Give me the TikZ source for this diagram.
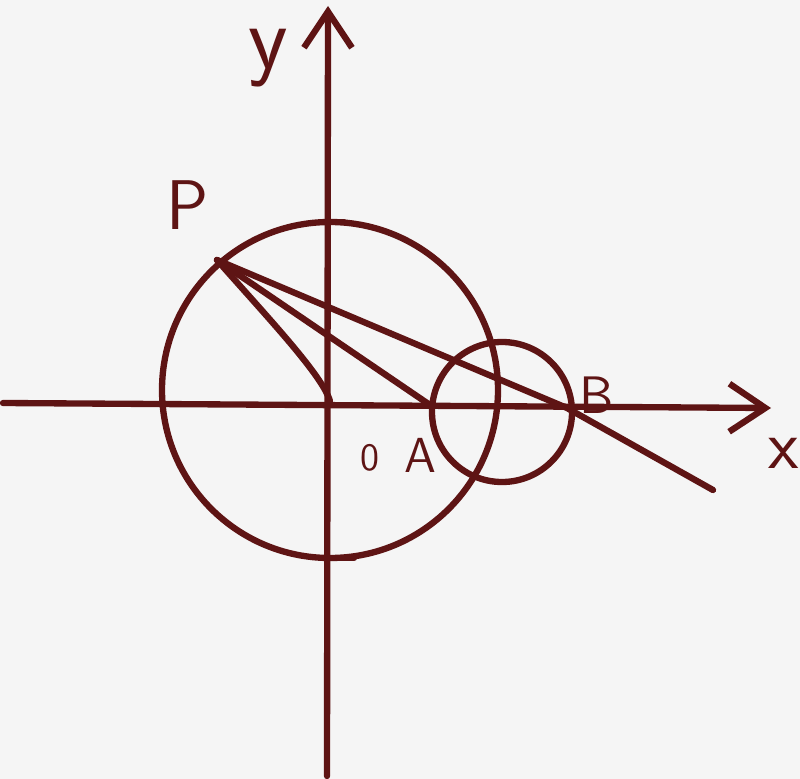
\documentclass[tikz,border=0pt]{standalone}
\usetikzlibrary{arrows.meta}
\definecolor{ink}{HTML}{5E1414}
\definecolor{paper}{HTML}{F5F5F5}
\tikzset{
    pen/.style={draw=ink, line width=1.8pt, line cap=round, line join=round},
    axis/.style={pen, -{Straight Barb[length=3.6mm, width=4.8mm, line width=1.8pt]}},
    letter/.style={text=ink, inner sep=0pt}
}
\begin{document}
\begin{tikzpicture}[x=0.01cm, y=-0.01cm]

        \fill[paper] (0,0) rectangle (800,779);
        \useasboundingbox (0,0) rectangle (800,779);

        \coordinate (xstart) at (3,403);
        \coordinate (xend) at (771,408);
        \coordinate (ystart) at (327,776);
        \coordinate (yend) at (328,6);

        \coordinate (P) at (217,260);
        \coordinate (O) at (330,401);
        \coordinate (A) at (430,405);
        \coordinate (B) at (567,408);
        \coordinate (Q) at (713,490);
        \coordinate (bigc) at (330,390);
        \coordinate (smallc) at (502,412);

        \draw [axis] (xstart) -- (xend);
        \draw [axis] (ystart) -- (yend);

        \draw [pen] (bigc) circle [radius=168];
        \draw [pen] (smallc) circle [radius=70];

        \draw [pen] (322,222) -- (344,222);
        \draw [pen] (330,558) -- (354,558);

        \draw [pen] (P) .. controls (270,320) and (322,375) .. (O);
        \draw [pen] (P) -- (A);
        \draw [pen] (P) -- (B) -- (Q);

        \node [letter, font=\fontsize{26}{26}\selectfont\sffamily] (ylabel) at (268,58) {y};
        \node [letter, font=\fontsize{20}{20}\selectfont\sffamily] (Plabel) at (188,205) {P};
        \node [letter, font=\fontsize{11}{11}\selectfont\sffamily] (Olabel) at (370,458) {0};
        \node [letter, font=\fontsize{14}{14}\selectfont\sffamily] (Alabel) at (420,455) {A};
        \node [letter, font=\fontsize{15}{15}\selectfont\sffamily] (Blabel) at (597,395) {B};
        \node [letter, font=\fontsize{20}{20}\selectfont\sffamily] (xlabel) at (784,453) {x};

    \end{tikzpicture}
\end{document}
